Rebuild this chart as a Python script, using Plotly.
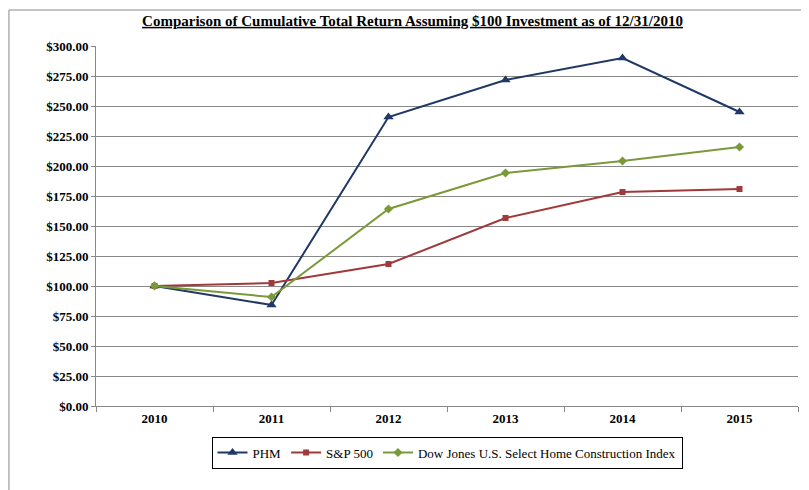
import plotly.graph_objects as go

years = ["2010", "2011", "2012", "2013", "2014", "2015"]
phm = [100.0, 84.2, 240.8, 271.7, 290.0, 245.0]
sp500 = [100.0, 102.5, 118.3, 156.7, 178.3, 180.8]
dowjones = [100.0, 90.8, 164.2, 194.2, 204.2, 215.8]

font = "Liberation Serif, Times New Roman, serif"

fig = go.Figure()
fig.add_trace(go.Scatter(x=years, y=phm, name="PHM", mode="lines+markers",
                         line=dict(color="#1F3864", width=2),
                         marker=dict(symbol="triangle-up", size=9)))
fig.add_trace(go.Scatter(x=years, y=sp500, name="S&P 500", mode="lines+markers",
                         line=dict(color="#A0393A", width=2),
                         marker=dict(symbol="square", size=6)))
fig.add_trace(go.Scatter(x=years, y=dowjones, name="Dow Jones U.S. Select Home Construction Index",
                         mode="lines+markers",
                         line=dict(color="#7A9A3A", width=2),
                         marker=dict(symbol="diamond", size=7)))

fig.update_layout(
    width=809, height=490,
    paper_bgcolor="white", plot_bgcolor="white",
    margin=dict(l=88, r=19, t=38, b=92, autoexpand=False),
    font=dict(family=font, size=13, color="black"),
    title=dict(text="<b><u>Comparison of Cumulative Total Return Assuming $100 Investment as of 12/31/2010</u></b>",
               x=0.5, xanchor="center", y=0.985, yanchor="top", font=dict(size=15)),
    xaxis=dict(showgrid=False, showline=True, linecolor="#888", range=[-0.5, 5.5],
               ticks="outside", ticklen=5, tickcolor="#888", tickson="boundaries",
               tickfont=dict(size=13, family=font), tickprefix="<b>", ticksuffix="</b>"),
    yaxis=dict(range=[0, 300], dtick=25, tickformat="$,.2f", showgrid=True,
               gridcolor="#888", gridwidth=1, showline=True, linecolor="#888",
               ticks="outside", ticklen=4, tickcolor="#888",
               tickfont=dict(size=13, family=font), tickprefix="<b>", ticksuffix="</b>",
               zeroline=False),
    legend=dict(orientation="h", x=0.5, xanchor="center", y=-0.085, yanchor="top",
                bordercolor="black", borderwidth=1, font=dict(size=13)),
    shapes=[dict(type="rect", xref="paper", yref="paper", x0=-0.124, x1=1.024,
                 y0=-0.25, y1=1.1, line=dict(color="#888", width=1))],
)

fig.write_html("out.html")
